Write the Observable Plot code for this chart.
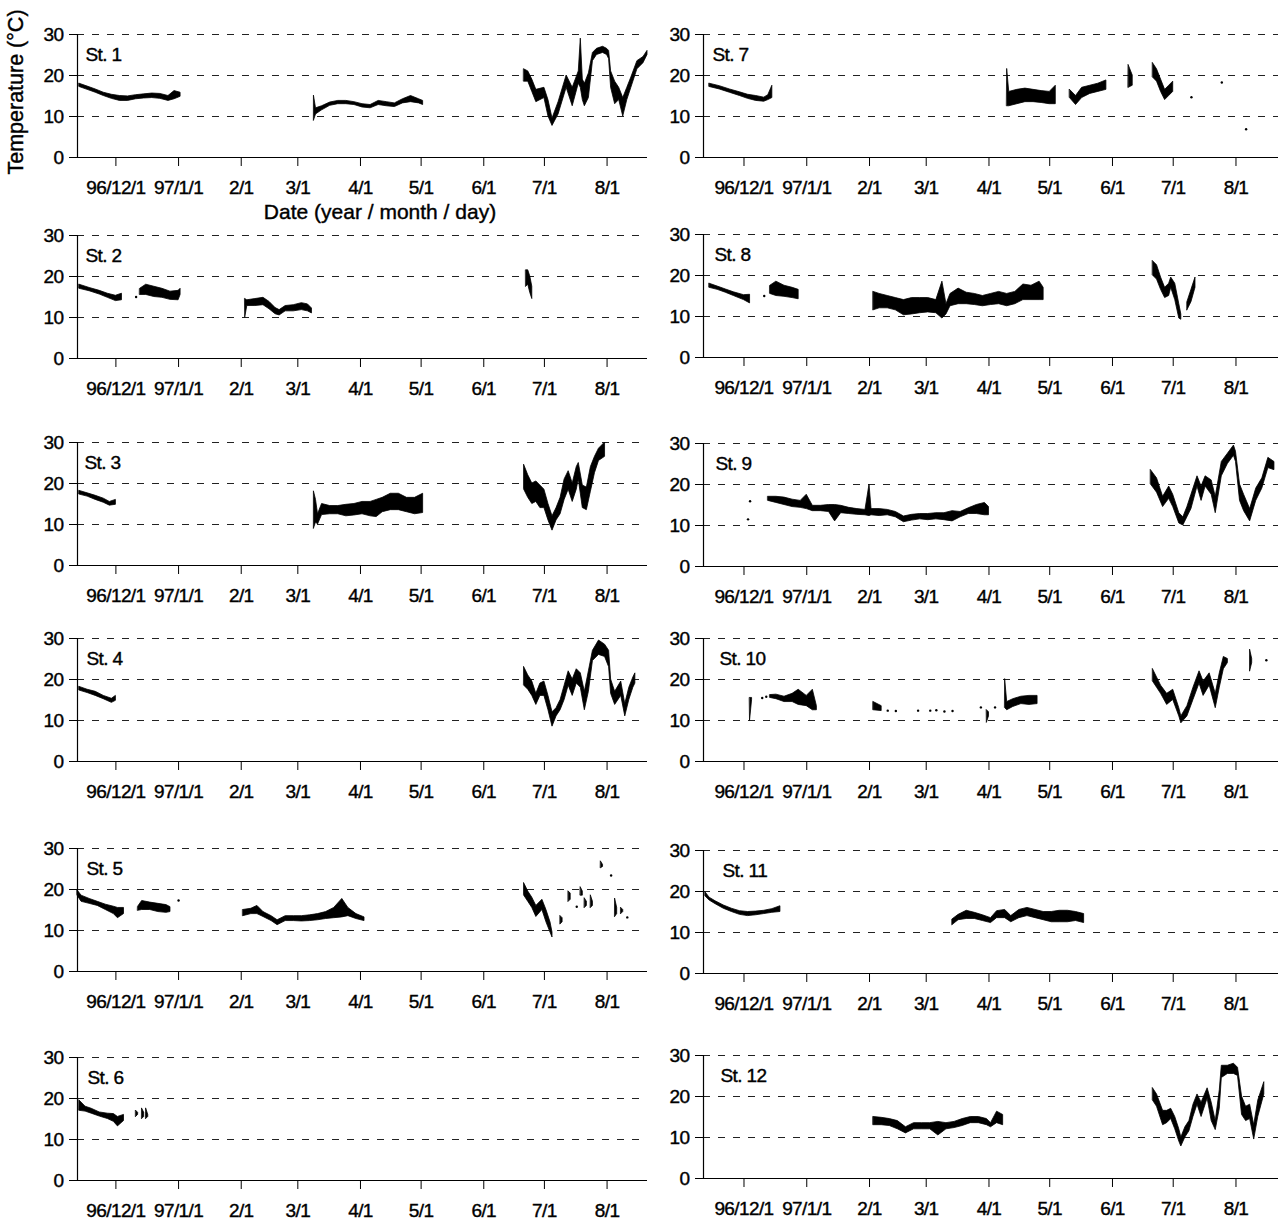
<!DOCTYPE html>
<html><head><meta charset="utf-8">
<script src="https://cdn.jsdelivr.net/npm/d3@7"></script>
<script src="https://cdn.jsdelivr.net/npm/@observablehq/plot@0.6"></script>
<style>
body{margin:0;background:#fff;}
#wrap{position:relative;width:1288px;height:1223px;background:#fff;font-family:"Liberation Sans",Arial,sans-serif;color:#000;overflow:hidden;}
.lab{position:absolute;font-size:21px;white-space:nowrap;line-height:1;-webkit-text-stroke:0.4px #000;}
svg text{letter-spacing:-0.6px;stroke:#000;stroke-width:0.4px;}
</style></head><body><div id="wrap"></div>
<script>
// ---- tick positions and labels ----
const tickMD = ["12-01","01-01","02-01","03-01","04-01","05-01","06-01","07-01","08-01"];
const tickLabels = ["96/12/1","97/1/1","2/1","3/1","4/1","5/1","6/1","7/1","8/1"];
const yTicks = [0,10,20,30];
const gridValues = [10,20,30];

// ---- data: [month-day, low, high]; null = gap in record ----
const st1 = [
 ["11-13",17.2,18.0],["11-17",16.5,17.3],["11-21",15.8,16.6],["11-25",15.0,15.8],["11-29",14.3,15.3],["12-03",13.8,15.0],["12-07",13.8,14.9],["12-11",14.2,15.2],["12-15",14.4,15.4],["12-19",14.5,15.6],["12-23",14.3,15.5],["12-27",13.8,15.0],["12-30",14.2,16.2],["01-02",14.8,15.8], null,
 ["03-09",9.0,15.0],["03-10",10.5,12.0],["03-13",11.5,12.5],["03-17",12.6,13.4],["03-21",13.0,13.8],["03-25",13.0,13.8],["03-29",12.8,13.5],["04-02",12.2,13.0],["04-06",12.0,12.8],["04-10",12.8,13.8],["04-14",12.5,13.5],["04-18",12.3,13.2],["04-22",13.2,14.2],["04-26",13.5,15.0],["04-30",13.2,14.2],["05-02",12.8,13.8], null,
 ["06-21",18.5,21.5],["06-23",18.5,21.0],["06-25",16,19],["06-27",13.5,16.5],["07-01",14.5,17],["07-03",10,14],["07-05",7.7,9.5],["07-08",10.5,13.5],["07-12",17,20],["07-15",12.5,17],["07-18",18,21],["07-19",17,29],["07-20",14,19],["07-21",12.5,18],["07-23",14.5,20.5],["07-25",23.5,25.5],["07-27",25,26.5],["07-30",25.5,27],["08-01",25,26.5],["08-02",24,26],["08-03",17,21],["08-05",13,18.5],["08-07",14,17],["08-09",10,14.5],["08-11",14,17],["08-13",17,19.5],["08-16",21.5,23.5],["08-19",23,24.5],["08-21",25,26]
];
const st2 = [
 ["11-13",17,18],["11-18",16.4,17.2],["11-23",15.6,16.5],["11-27",14.8,15.8],["12-01",14.0,15.3],["12-04",14.2,15.8], null,
 ["12-13",15.5,17],["12-16",15.5,18],["12-20",15,17.5],["12-24",14.8,17],["12-28",14.3,16.3],["01-01",14.2,16.5],["01-02",15.5,17], null,
 ["02-03",10,14.5],["02-04",12.8,14.2],["02-08",12.8,14.5],["02-12",13,14.8],["02-15",12,13.8],["02-18",10.8,12.3],["02-20",10.5,11.8],["02-23",11.5,12.8],["02-27",11.5,13],["03-03",11.8,13.5],["03-06",11.5,13.2],["03-08",11.0,12.2], null,
 ["06-22",17.5,21.5],["06-23",18,21.5],["06-24",16,20],["06-25",14.5,17.5]
];
const st3 = [
 ["11-13",17.3,18.2],["11-17",16.8,17.6],["11-21",16.0,17.0],["11-25",15.3,16.3],["11-28",14.6,15.5],["12-01",14.8,16.0], null,
 ["03-09",9,18],["03-10",10.5,16],["03-11",10,12.5],["03-13",12.3,15],["03-17",12.5,14.5],["03-21",12.5,14.5],["03-25",12,14.8],["03-29",12.2,15],["04-02",12.5,15.5],["04-06",12,15.5],["04-09",11.8,16],["04-12",13,16.5],["04-16",13.5,17.5],["04-20",13.5,17.5],["04-24",13,16.5],["04-28",12.5,16.5],["05-02",12.8,17.5], null,
 ["06-21",18.5,24.5],["06-23",16.5,22],["06-25",15,20],["06-27",15.5,20.5],["06-29",14,19.5],["07-01",14,18.5],["07-03",11,15],["07-05",8.5,12],["07-07",11,14],["07-09",12.5,16.5],["07-11",16,21],["07-13",18.5,23],["07-15",15.5,20],["07-17",18.5,24],["07-18",21,25],["07-20",14,19.5],["07-22",13.5,19],["07-24",18,24],["07-26",22.5,26.5],["07-28",25.5,28.5],["07-31",26.5,30]
];
const st4 = [
 ["11-13",17.3,18.2],["11-17",16.7,17.5],["11-21",16,17],["11-25",15.2,16],["11-29",14.3,15.3],["12-01",14.8,16], null,
 ["06-21",18.5,23],["06-23",17.5,21],["06-25",16,19.5],["06-27",13.8,16.5],["06-29",16,19],["07-01",16,19.5],["07-03",12.5,16],["07-05",8.5,12],["07-07",11,13],["07-09",12.5,15],["07-11",15,18.5],["07-13",18.5,22],["07-15",16,20],["07-17",19,22.5],["07-19",18,21.5],["07-21",12.5,17],["07-23",17,22],["07-25",24.5,27],["07-28",26,29.5],["07-31",25.5,28.5],["08-02",23,27],["08-03",16.5,20],["08-05",13.8,17],["08-08",16,19.5],["08-10",11,14],["08-12",15,18],["08-14",18,20.5],["08-15",19,21.5]
];
const st5 = [
 ["11-12",18.5,19.8],["11-14",17,18.5],["11-18",16.5,17.7],["11-22",16,17],["11-26",15,16.3],["11-30",14,15.8],["12-02",13,15.5],["12-05",14,15.5], null,
 ["12-12",14.8,15.8],["12-14",15,17.2],["12-18",15,16.8],["12-22",14.5,16.5],["12-26",14.3,16.2],["12-28",14.5,15.7], null,
 ["02-02",13.5,15],["02-06",14,15.3],["02-09",14,16],["02-12",13.3,14.5],["02-16",12.3,13.5],["02-19",11.3,12.5],["02-23",12.3,13.5],["02-27",12.3,13.5],["03-03",12.2,13.5],["03-07",12.3,13.7],["03-11",12.5,14],["03-15",12.8,14.5],["03-19",13,15.5],["03-23",13.2,17.7],["03-26",13.5,15.5],["03-30",12.8,14],["04-03",12.3,13.2], null,
 ["06-21",18.5,21.5],["06-23",17,19.5],["06-25",15.5,18],["06-27",13.3,16],["06-30",15,17.5],["07-02",12,15],["07-04",9.5,12],["07-05",8.3,9.5], null,
 ["07-09",11.5,13.5],["07-10",12,13], null,
 ["07-13",17,19.5],["07-14",17.5,19], null,
 ["07-19",18.5,20.5],["07-20",18.5,19.5], null,
 ["07-21",15.5,17.8],["07-22",16,17], null,
 ["07-24",15.5,18.5],["07-25",16,17], null,
 ["07-29",25.2,26.8],["07-30",25.5,26], null,
 ["08-05",13.3,17.7],["08-06",14,15.5], null,
 ["08-08",14,15.5],["08-09",14.5,15]
];
const st6 = [
 ["11-13",17,19.5],["11-16",16.8,18],["11-19",16.3,17.5],["11-23",15.6,16.6],["11-27",15,16.3],["11-30",14.3,16.2],["12-02",13.2,15.5],["12-05",14.5,16], null,
 ["12-11",15.5,17],["12-12",16,16.5], null,
 ["12-14",15,17.5],["12-15",15.5,16.5], null,
 ["12-16",15,17.5],["12-17",15.5,16]
];
const st7 = [
 ["11-14",17.2,18.0],["11-19",16.6,17.4],["11-24",15.8,16.6],["11-29",15.0,15.9],["12-03",14.3,15.3],["12-07",13.8,15.0],["12-11",13.6,14.6],["12-13",14.0,15.2],["12-15",14.5,17.5], null,
 ["04-10",12.5,21.5],["04-11",12.5,16.0],["04-15",13.0,16.5],["04-19",13.5,16.8],["04-23",13.5,16.5],["04-27",13.3,16.2],["05-01",13.0,16.0],["05-04",13.0,17.5], null,
 ["05-11",14.5,16.5],["05-14",12.8,15.0],["05-17",14.5,17.0],["05-21",15.5,17.5],["05-25",16.0,18.0],["05-29",16.5,18.8], null,
 ["06-09",17,22.5],["06-11",17.5,20], null,
 ["06-21",19.5,23],["06-23",18.5,21.5],["06-25",16,19],["06-27",14,16.5],["06-29",15,17.5],["07-01",16,18.5]
];
const st8 = [
 ["11-14",17,18],["11-18",16.5,17.3],["11-22",15.8,16.6],["11-26",15,15.9],["12-01",14,15.2],["12-04",13.2,15.3], null,
 ["12-14",15.5,17.5],["12-17",15,18.5],["12-21",14.8,17.5],["12-25",14.5,17],["12-28",14.2,16.5], null,
 ["02-03",11.5,16],["02-06",12,15.5],["02-10",12,15],["02-14",11.5,14.5],["02-18",10.3,14],["02-22",10.5,14.5],["02-26",10.8,14.5],["03-02",11,14.5],["03-06",10.8,14],["03-09",9.5,18.5],["03-11",10.5,13],["03-13",12.5,15.5],["03-17",13,16.8],["03-21",13,15.8],["03-25",12.8,15.5],["03-29",12.5,15],["04-02",12.8,15.5],["04-06",13,16],["04-10",12.5,15.5],["04-14",13,16],["04-18",14,17.8],["04-22",14,17.5],["04-26",14,18.5],["04-28",14,17], null,
 ["06-21",20,23.5],["06-23",19,22.5],["06-25",16.5,19.5],["06-27",14.5,17],["06-29",15,18],["06-30",17,19.5],["07-02",14,18],["07-04",9.5,13],["07-05",9.2,10.5], null,
 ["07-08",11.5,13.5],["07-10",13.5,16.5],["07-12",17,19.5]
];
const st9 = [
 ["12-13",16,17],["12-17",15.5,17],["12-21",15,16.8],["12-25",14.5,16.3],["12-29",14.3,16],["01-01",14,17.5],["01-04",13.5,14.8],["01-08",13.5,14.8],["01-12",13.3,15],["01-15",11,15],["01-18",13,14.8],["01-22",12.8,14.3],["01-26",12.6,14],["01-30",12.5,13.8],["02-01",12.3,20],["02-02",12.5,14],["02-06",12.3,14],["02-10",12.5,13.8],["02-14",12,13.3],["02-18",10.8,12.2],["02-22",11.2,12.6],["02-26",11.5,12.8],["03-02",11.3,12.8],["03-06",11.5,13],["03-10",11.3,13],["03-14",11,13.5],["03-18",12,13.3],["03-22",12.8,14.2],["03-26",12.8,15],["03-30",12.5,15.5],["04-01",12.5,14.5], null,
 ["06-20",20,23.5],["06-23",18,21.5],["06-26",14.5,17],["06-29",16.5,19.5],["07-01",14.5,17.5],["07-04",10.5,13],["07-06",10,12],["07-08",12,14.5],["07-10",14,17.5],["07-13",19.5,22],["07-15",16,19.5],["07-17",19.5,22],["07-20",17.5,21],["07-22",13,17],["07-25",22,25.5],["07-28",25,27.5],["07-31",27,29.5],["08-01",25.5,28],["08-03",16,20],["08-05",13.5,17.5],["08-08",11,14],["08-11",16,19],["08-14",19,21.5],["08-17",24,26.5],["08-20",23.5,25.5]
];
const st10 = [
 ["12-04",10,15.5],["12-05",15,15.5], null,
 ["12-14",15.5,16.2],["12-17",15.2,16.3],["12-21",14.5,15.8],["12-25",14.5,16.5],["12-28",13.8,17.5],["01-01",13.5,16],["01-04",12.5,17.5],["01-06",12.5,13.5], null,
 ["02-03",12.5,14.5],["02-07",12.3,13.5], null,
 ["03-31",9.5,12.5],["04-01",11,12], null,
 ["04-09",13,20],["04-10",12.5,14.5],["04-13",13.3,15.2],["04-17",14,15.8],["04-21",13.8,16],["04-25",14,16], null,
 ["06-21",19.5,22.5],["06-23",18,20.5],["06-25",16.5,18.5],["06-28",13.8,16.5],["07-01",15,17.5],["07-04",11,13],["07-05",9.3,11],["07-08",11,13.5],["07-11",15,18],["07-14",19,22],["07-16",16,19.5],["07-19",18.5,21.5],["07-22",13,16.5],["07-24",18,21.5],["07-26",22.5,25.5],["07-28",24,25], null,
 ["08-08",22,27.2],["08-09",24,25]
];
const st11 = [
 ["11-12",18.8,19.8],["11-14",17.8,18.5],["11-17",16.9,17.6],["11-21",15.8,16.6],["11-25",15,15.8],["11-29",14.3,15.2],["12-03",14,15],["12-07",14.2,15.1],["12-11",14.5,15.3],["12-15",14.8,15.7],["12-19",15,16.4], null,
 ["03-14",11.8,13.2],["03-17",13,14.3],["03-21",13.3,15.3],["03-25",13.3,14.8],["03-29",12.8,14.2],["04-02",12.3,13.5],["04-05",13.5,15.2],["04-09",13.5,15.5],["04-12",12.5,14],["04-16",13.5,15.5],["04-20",14,16],["04-24",13.5,15.5],["04-28",13,15],["05-02",12.5,15],["05-06",12.5,15.3],["05-10",12.5,15.3],["05-14",12.8,15],["05-18",12.3,14.5]
];
const st12 = [
 ["02-03",13,15],["02-07",13,14.8],["02-11",12.8,14.5],["02-15",12,14],["02-19",11,12.5],["02-23",12,13.5],["02-27",12,13.5],["03-03",12,13.5],["03-07",10.5,13.8],["03-11",12,13.5],["03-15",12.3,13.8],["03-19",12.8,14.5],["03-23",13.5,15],["03-27",13.5,15],["03-31",13,14.5],["04-02",12.5,13.5],["04-05",13.5,16.3],["04-08",13,15.5], null,
 ["06-21",19,22],["06-23",17.5,20.5],["06-26",13,16.5],["06-28",13.5,16.5],["06-30",14.5,17],["07-02",12,15],["07-04",9,12],["07-05",7.8,10],["07-07",10,12.5],["07-09",11.5,14],["07-11",15,18],["07-13",18,20.5],["07-15",15,18.5],["07-18",19.5,22],["07-20",14,18.5],["07-22",11.8,14],["07-24",17,21.5],["07-25",24.5,27.5],["07-28",25.5,27.5],["07-31",25.5,28],["08-02",25,27],["08-04",15.5,20],["08-06",14,17.5],["08-08",14.5,18],["08-10",9.5,13],["08-12",15,19],["08-15",20.5,23.5]
];
// isolated readings: [station, month-day, value]
const specks = [
 [2,"12-11",15],[5,"01-01",17.3],[5,"07-17",15.8],[5,"08-03",23.4],[5,"08-11",13.2],
 [7,"07-10",14.7],[7,"07-25",18.3],[7,"08-06",6.9],[8,"12-11",15],
 [9,"12-03",11.5],[9,"12-04",15.9],
 [10,"12-10",15.5],[10,"12-12",15.8],[10,"02-10",12.4],[10,"02-14",12.3],[10,"02-25",12.4],[10,"03-03",12.4],[10,"03-06",12.5],[10,"03-10",12.2],[10,"03-14",12.3],[10,"03-28",13.2],[10,"04-04",13.2],[10,"08-16",24.7]
];

// ---- helpers ----
function d(md){ const [m,dd]=md.split("-").map(Number); return new Date(Date.UTC(m>=11?1996:1997, m-1, dd)); }
function toRows(arr){ let seg=0; const out=[]; for(const r of arr){ if(r===null){seg++;continue;} out.push({date:d(r[0]),lo:r[1],hi:r[2],seg}); } return out; }
const tickDates = tickMD.map(d);
const labelMap = new Map(tickDates.map((t,i)=>[+t,tickLabels[i]]));

const panels = [
 {name:"St. 1", data:st1, id:1, col:0, top:34, dx:8},
 {name:"St. 2", data:st2, id:2, col:0, top:235, dx:8},
 {name:"St. 3", data:st3, id:3, col:0, top:442, dx:7},
 {name:"St. 4", data:st4, id:4, col:0, top:638, dx:9},
 {name:"St. 5", data:st5, id:5, col:0, top:848, dx:9},
 {name:"St. 6", data:st6, id:6, col:0, top:1057, dx:10},
 {name:"St. 7", data:st7, id:7, col:1, top:34, dx:9},
 {name:"St. 8", data:st8, id:8, col:1, top:234, dx:11},
 {name:"St. 9", data:st9, id:9, col:1, top:443, dx:12},
 {name:"St. 10", data:st10, id:10, col:1, top:638, dx:16},
 {name:"St. 11", data:st11, id:11, col:1, top:850, dx:19},
 {name:"St. 12", data:st12, id:12, col:1, top:1055, dx:17}
];
const cols = [
 {axisX:77, plotW:570, dom:[d("11-12"), d("08-21")]},
 {axisX:703, plotW:575, dom:[d("11-11"), d("08-22")]}
];
const ML=45, MR=5, MT=10, MB=40, PH=123;
const wrap = document.getElementById("wrap");
const font = '"Liberation Sans", Arial, sans-serif';

for (const p of panels){
  const c = cols[p.col];
  const rows = toRows(p.data);
  const sp = specks.filter(s=>s[0]===p.id).map(s=>({date:d(s[1]), v:s[2]}));
  const chart = Plot.plot({
    width: ML + c.plotW + MR, height: MT + PH + MB,
    marginLeft: ML, marginRight: MR, marginTop: MT, marginBottom: MB,
    style: {fontFamily: font, fontSize: "19px", background: "transparent", color: "#000", overflow: "visible"},
    x: {type: "utc", domain: c.dom},
    y: {domain: [0,30]},
    marks: [
      Plot.ruleY(gridValues, {stroke: "#222", strokeWidth: 1, strokeDasharray: "7,8"}),
      Plot.areaY(rows, {x: "date", y1: "lo", y2: "hi", z: "seg", fill: "#000", stroke: "#000", strokeWidth: 0.8}),
      Plot.dot(sp, {x: "date", y: "v", r: 1.2, fill: "#000", stroke: null}),
      Plot.ruleY([0], {stroke: "#000", strokeWidth: 1.2}),
      Plot.ruleX([c.dom[0]], {stroke: "#000", strokeWidth: 1.2}),
      Plot.axisX({ticks: tickDates, tickFormat: t => labelMap.get(+t), tickSize: 9, tickPadding: 14, fontSize: 19, label: null, stroke: "#000"}),
      Plot.axisY({ticks: yTicks, tickFormat: v => String(v), tickSize: 8, tickPadding: 6, fontSize: 19, label: null, stroke: "#000"}),
      Plot.text([p.name], {frameAnchor: "top-left", dx: p.dx, dy: 13, fontSize: 19, textAnchor: "start", lineAnchor: "top", fill: "#000"})
    ]
  });
  chart.style.position = "absolute";
  chart.style.left = (c.axisX - ML) + "px";
  chart.style.top = (p.top - MT) + "px";
  wrap.appendChild(chart);
}

// axis titles
const yl = document.createElement("div");
yl.className = "lab";
yl.style.fontSize = "21.5px";
yl.textContent = "Temperature (°C)";
yl.style.left = "17px"; yl.style.top = "92px";
yl.style.transform = "translate(-50%,-50%) rotate(-90deg)";
wrap.appendChild(yl);

const xl = document.createElement("div");
xl.className = "lab";
xl.textContent = "Date (year / month / day)";
xl.style.left = "380px"; xl.style.top = "201px";
xl.style.transform = "translateX(-50%)";
wrap.appendChild(xl);
</script></body></html>
